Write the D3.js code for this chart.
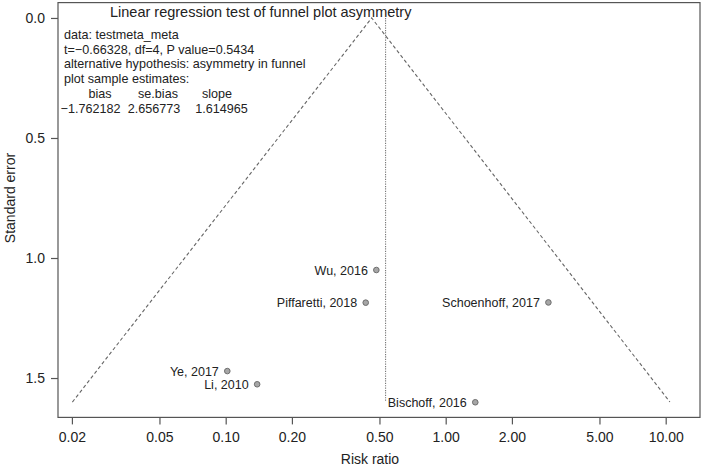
<!DOCTYPE html>
<html>
<head>
<meta charset="utf-8">
<script src="https://cdn.jsdelivr.net/npm/d3@7"></script>
<style>
  html, body { margin: 0; padding: 0; background: #fff; }
  svg { display: block; font-family: "Liberation Sans", Arial, Helvetica, sans-serif; }
</style>
</head>
<body>
<div id="chart"></div>
<script>
// studies: name, risk ratio, standard error
const studies = ['Wu, 2016', 'Piffaretti, 2018', 'Schoenhoff, 2017', 'Ye, 2017', 'Li, 2010', 'Bischoff, 2016'];
const riskRatios = [0.484, 0.433, 2.93, 0.1017, 0.139, 1.363];
const stdErrors = [1.05, 1.186, 1.185, 1.471, 1.526, 1.601];

// funnel outline (left bottom, apex, right bottom) and pooled estimate
const funnelRR = [0.0201, 0.461, 10.45];
const funnelSE = [1.6, 0, 1.6];
const pooledRR = 0.533;
const pooledSE = [0, 1.6];

const xTicks = [0.02, 0.05, 0.1, 0.2, 0.5, 1, 2, 5, 10];
const yTicks = [0, 0.5, 1.0, 1.5];

const testLines = [
  'data: testmeta_meta',
  't=\u22120.66328, df=4, P value=0.5434',
  'alternative hypothesis: asymmetry in funnel',
  'plot sample estimates:'
];
const estNames = ['bias', 'se.bias', 'slope'];
const estValues = ['\u22121.762182', '2.656773', '1.614965'];

const width = 704, height = 472;
const box = {left: 58, right: 700, top: 2.6, bottom: 417.4};

const x = d3.scaleLog()
  .domain([0.01729, 14.32])
  .range([box.left, box.right]);
const y = d3.scaleLinear()
  .domain([-0.064, 1.664])
  .range([box.top, box.bottom]);

const svg = d3.select('#chart').append('svg')
  .attr('width', width)
  .attr('height', height)
  .attr('viewBox', [0, 0, width, height]);

// frame
svg.append('rect')
  .attr('x', box.left)
  .attr('y', box.top)
  .attr('width', box.right - box.left)
  .attr('height', box.bottom - box.top)
  .attr('fill', 'none')
  .attr('stroke', '#555')
  .attr('stroke-width', 1.2);

// x axis
const xAxis = svg.append('g')
  .attr('transform', `translate(0,${box.bottom})`)
  .call(d3.axisBottom(x).tickValues(xTicks).tickFormat(d3.format('.2f')).tickSize(7).tickSizeOuter(0).tickPadding(8));
xAxis.select('.domain').remove();
xAxis.selectAll('line').attr('stroke', '#555').attr('stroke-width', 1.2);
xAxis.selectAll('text').attr('font-size', 14).attr('font-family', null).attr('fill', '#222');

// y axis
const yAxis = svg.append('g')
  .attr('transform', `translate(${box.left},0)`)
  .call(d3.axisLeft(y).tickValues(yTicks).tickFormat(d3.format('.1f')).tickSize(7).tickSizeOuter(0).tickPadding(6));
yAxis.select('.domain').remove();
yAxis.selectAll('line').attr('stroke', '#555').attr('stroke-width', 1.2);
yAxis.selectAll('text').attr('font-size', 14).attr('font-family', null).attr('fill', '#222');

// axis titles
svg.append('text')
  .attr('x', 370)
  .attr('y', 464)
  .attr('text-anchor', 'middle')
  .attr('font-size', 14)
  .attr('fill', '#222')
  .text('Risk ratio');

svg.append('text')
  .attr('transform', `translate(15,${(box.top + box.bottom) / 2 - 12}) rotate(-90)`)
  .attr('text-anchor', 'middle')
  .attr('font-size', 14)
  .attr('fill', '#222')
  .text('Standard error');

// funnel
const funnel = d3.line()
  .x(d => x(d[0]))
  .y(d => y(d[1]));

svg.append('path')
  .datum(d3.zip(funnelRR, funnelSE))
  .attr('d', funnel)
  .attr('fill', 'none')
  .attr('stroke', '#666')
  .attr('stroke-width', 1.1)
  .attr('stroke-dasharray', '3.5,2.5');

svg.append('line')
  .attr('x1', x(pooledRR)).attr('x2', x(pooledRR))
  .attr('y1', y(pooledSE[0])).attr('y2', y(pooledSE[1]))
  .attr('stroke', '#777')
  .attr('stroke-width', 1.1)
  .attr('stroke-dasharray', '1.2,1.2');

// study points and labels
const pts = svg.append('g')
  .selectAll('g')
  .data(studies.map((s, i) => ({name: s, rr: riskRatios[i], se: stdErrors[i]})))
  .join('g')
    .attr('transform', d => `translate(${x(d.rr)},${y(d.se)})`);

pts.append('circle')
  .attr('r', 2.8)
  .attr('fill', '#a6a6a6')
  .attr('stroke', '#6e6e6e')
  .attr('stroke-width', 1);

pts.append('text')
  .attr('x', -8.5)
  .attr('dy', '0.36em')
  .attr('text-anchor', 'end')
  .attr('font-size', 12.5)
  .attr('fill', '#222')
  .text(d => d.name);

// test annotation
svg.append('text')
  .attr('x', 110)
  .attr('y', 17)
  .attr('font-size', 14.5)
  .attr('fill', '#222')
  .text('Linear regression test of funnel plot asymmetry');

const note = svg.append('g').attr('font-size', 12.6).attr('fill', '#222');
note.selectAll('text.line')
  .data(testLines)
  .join('text')
    .attr('class', 'line')
    .attr('x', 64)
    .attr('y', (d, i) => 39 + i * 14.7)
    .text(d => d);

const headCenters = [100, 158, 217];
const valCenters = [90.5, 154, 221.5];
note.selectAll('text.head')
  .data(estNames)
  .join('text')
    .attr('class', 'head')
    .attr('x', (d, i) => headCenters[i])
    .attr('y', 39 + 4 * 14.7)
    .attr('text-anchor', 'middle')
    .text(d => d);

note.selectAll('text.val')
  .data(estValues)
  .join('text')
    .attr('class', 'val')
    .attr('x', (d, i) => valCenters[i])
    .attr('y', 39 + 5 * 14.7)
    .attr('text-anchor', 'middle')
    .text(d => d);
</script>
</body>
</html>
